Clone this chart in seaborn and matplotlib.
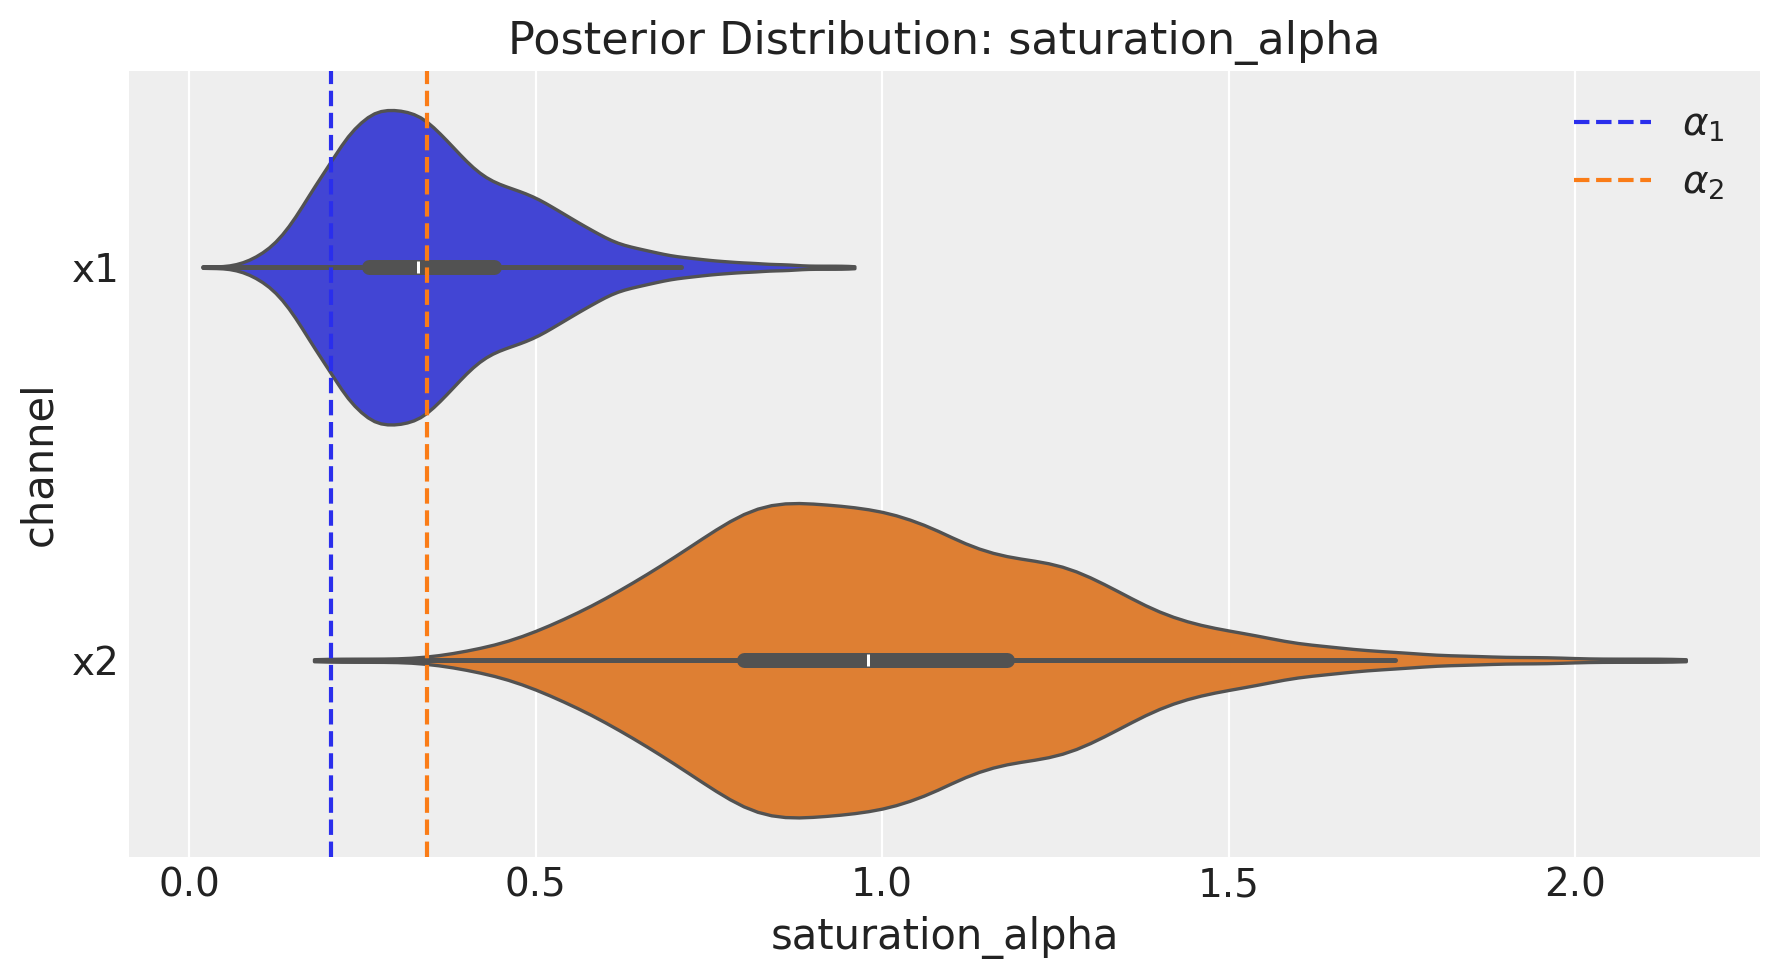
import numpy as np
import pandas as pd
import matplotlib
matplotlib.use("Agg")
import matplotlib.pyplot as plt
import seaborn as sns

# ---- data ----
channels = ["x1", "x2"]
palette = ["#2a2eec", "#fa7c17"]
true_alpha = [0.204, 0.343]
legend_labels = [r"$\alpha_1$", r"$\alpha_2$"]

# posterior draws of saturation_alpha, stored as value grid + number of draws at each value
x1_values = np.round(np.arange(0.02, 0.965, 0.01), 2)
x1_counts = [
    1, 0, 1, 0, 1,
    2, 3, 5, 8, 10, 14, 18, 24, 30, 37,
    45, 52, 59, 65, 72, 80, 87, 91, 94, 100,
    101, 102, 102, 102, 101, 100, 99, 96, 92, 87,
    83, 78, 73, 68, 64, 60, 57, 55, 53, 52,
    50, 49, 47, 45, 43, 40, 37, 35, 32, 29,
    27, 24, 22, 19, 17, 15, 14, 13, 12, 11,
    10, 9, 8, 7, 7, 6, 6, 5, 5, 4,
    4, 4, 3, 3, 3, 3, 2, 2, 2, 2,
    2, 1, 1, 1, 1, 1, 1, 1, 1, 1,
]
x2_values = np.round(np.arange(0.18, 2.165, 0.02), 2)
x2_counts = [
    1, 1, 1, 1, 1, 1, 1, 1, 2, 3,
    4, 6, 8, 9, 12, 15, 18, 22, 26, 30,
    34, 39, 44, 49, 54, 60, 65, 71, 77, 83,
    88, 94, 97, 99, 100, 100, 99, 98, 98, 97,
    95, 95, 92, 89, 86, 83, 77, 73, 70, 67,
    65, 64, 63, 62, 60, 57, 53, 48, 44, 39,
    34, 30, 27, 24, 22, 20, 19, 17, 16, 14,
    12, 10, 10, 9, 8, 7, 6, 6, 5, 5,
    4, 3, 3, 3, 3, 2, 2, 2, 2, 2,
    2, 1, 1, 1, 1, 1, 1, 1, 1, 1,
]

draws1 = np.repeat(x1_values, x1_counts)
draws2 = np.repeat(x2_values, x2_counts)
df = pd.DataFrame({
    "saturation_alpha": np.concatenate([draws1, draws2]),
    "channel": [channels[0]] * len(draws1) + [channels[1]] * len(draws2),
})

# ---- style (arviz-darkgrid look) ----
sns.set_theme(style="darkgrid")
text_color = "#222222"
plt.rcParams.update({
    "font.family": ["DejaVu Sans"],
    "axes.facecolor": "#eeeeee",
    "axes.edgecolor": "#eeeeee",
    "grid.color": "white",
    "grid.linewidth": 0.8,
    "axes.axisbelow": True,
    "text.color": text_color,
    "axes.labelcolor": text_color,
    "xtick.color": text_color,
    "ytick.color": text_color,
    "xtick.major.size": 0,
    "ytick.major.size": 0,
    "xtick.major.pad": 3.5,
    "ytick.major.pad": 3.5,
    "axes.titlesize": 16,
    "axes.labelsize": 15,
    "xtick.labelsize": 14,
    "ytick.labelsize": 14,
    "legend.fontsize": 14,
})

fig, ax = plt.subplots(figsize=(8.895, 4.885), dpi=200)
fig.subplots_adjust(left=0.0725, right=0.9893, bottom=0.1231, top=0.9276)

sns.violinplot(
    data=df, x="saturation_alpha", y="channel", hue="channel",
    palette=palette, order=channels, hue_order=channels,
    inner="box", cut=0, density_norm="width", bw_method=0.1,
    linewidth=1.2, legend=False, ax=ax,
)

handles = []
for val, col, lab in zip(true_alpha, palette, legend_labels):
    h = ax.axvline(val, color=col, linestyle="--", linewidth=1.5, label=lab, zorder=5)
    handles.append(h)

ax.legend(handles=handles, labels=legend_labels, loc="upper right", frameon=False)
ax.set_title("Posterior Distribution: saturation_alpha")
ax.set_xlabel("saturation_alpha")
ax.set_ylabel("channel")
ax.grid(axis="x", color="white", linewidth=0.8)
ax.grid(axis="y", visible=False)
for s in ax.spines.values():
    s.set_visible(False)

fig.savefig("out.png", dpi=200)
